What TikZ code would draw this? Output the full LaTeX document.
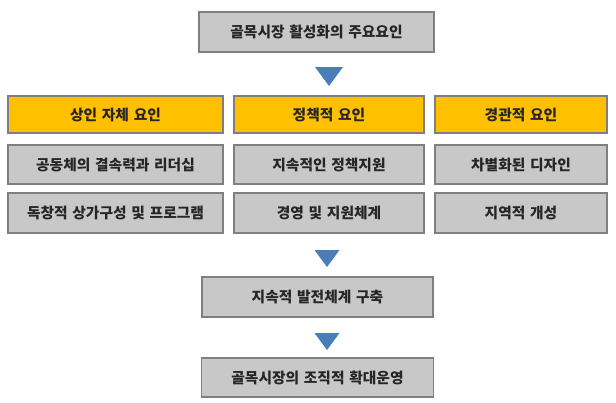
\documentclass[tikz,border=0pt]{standalone}
\usepackage{fontspec}
\newfontfamily\krfont{Noto Sans CJK KR}[WordSpace=1.4]
\definecolor{boxgray}{HTML}{C8C8C8}
\definecolor{edgegray}{HTML}{7F7F7F}
\definecolor{factoryellow}{HTML}{FFC000}
\definecolor{tribluecol}{HTML}{4A7EBB}
\definecolor{txtdark}{HTML}{262626}
\begin{document}
\begin{tikzpicture}[x=1bp, y=-1bp,
    graybox/.style={draw=edgegray, line width=1.6bp, fill=boxgray, text=txtdark,
      font=\krfont\bfseries\fontsize{14.8}{16}\selectfont, inner sep=0pt,
      minimum height=39bp},
    yellowbox/.style={graybox, fill=factoryellow, minimum height=37bp},
    downtri/.style={fill=tribluecol}]
    \useasboundingbox (0,0) rectangle (616,402);

    % 맨 위 상자
    \node[graybox, minimum width=235bp, minimum height=40bp] (goal) at (316.5,32) {골목시장 활성화의 주요요인};

    % 세 가지 요인 (제목)
    \node[yellowbox, minimum width=215bp] (merchant) at (115.5,114.5) {상인 자체 요인};
    \node[yellowbox, minimum width=190bp] (policy) at (329,114.5) {정책적 요인};
    \node[yellowbox, minimum width=172bp] (scenery) at (521,114.5) {경관적 요인};

    % 요인별 세부 항목
    \node[graybox, minimum width=215bp] (unity) at (115.5,164.5) {공동체의 결속력과 리더십};
    \node[graybox, minimum width=190bp] (support) at (329,164.5) {지속적인 정책지원};
    \node[graybox, minimum width=172bp] (design) at (521,164.5) {차별화된 디자인};
    \node[graybox, minimum width=215bp, minimum height=40bp] (program) at (115.5,213) {독창적 상가구성 및 프로그램};
    \node[graybox, minimum width=190bp, minimum height=40bp] (manage) at (329,213) {경영 및 지원체계};
    \node[graybox, minimum width=172bp, minimum height=40bp] (local) at (521,213) {지역적 개성};

    % 아래쪽 상자
    \node[graybox, minimum width=231bp, minimum height=40bp] (system) at (317.5,297) {지속적 발전체계 구축};
    \node[graybox, minimum width=232bp] (expand) at (317.5,377.5) {골목시장의 조직적 확대운영};

    % 파란 삼각형
    \coordinate (t1) at (329,67);
    \coordinate (t2) at (327,250);
    \coordinate (t3) at (327,333);
    \fill[downtri] (t1) ++(-14,0) -- ++(28,0) -- ++(-14,19) -- cycle;
    \fill[downtri] (t2) ++(-12.5,0) -- ++(25,0) -- ++(-12.5,17) -- cycle;
    \fill[downtri] (t3) ++(-12.5,0) -- ++(25,0) -- ++(-12.5,17) -- cycle;
\end{tikzpicture}
\end{document}
